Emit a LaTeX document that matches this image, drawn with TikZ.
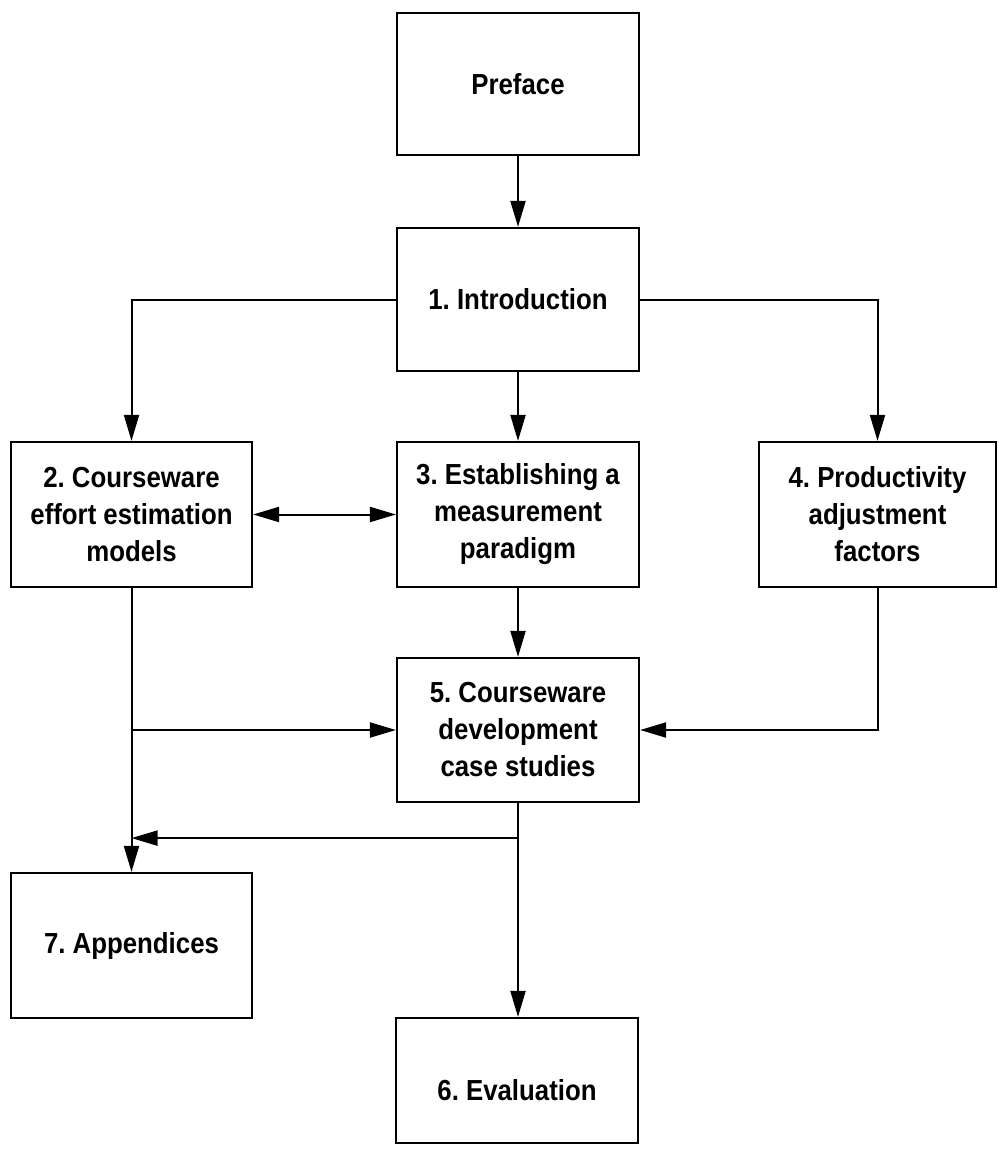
\documentclass[tikz,border=0pt]{standalone}
\usepackage{fontspec}
\setmainfont{Liberation Sans}[FakeStretch=0.89]
\usetikzlibrary{arrows.meta,calc}

\begin{document}
\frenchspacing
\begin{tikzpicture}[x=1pt, y=-1pt,
  chapter/.style={draw, line width=2.2pt, rectangle, align=center, inner sep=0pt,
    minimum width=242pt, font=\bfseries\fontsize{29}{37}\selectfont},
  link/.style={line width=2pt, -{Triangle[length=26pt, width=15pt]}},
  biglink/.style={line width=2pt, {Triangle[length=26pt, width=15pt]}-{Triangle[length=26pt, width=15pt]}}
]
\useasboundingbox (0,0) rectangle (998,1155);

% chapter boxes
\node[chapter, minimum height=142pt] (pref)  at (518,84)     {Preface};
\node[chapter, minimum height=143pt] (intro) at (518,299.5)  {1. Introduction};
\node[chapter, minimum height=145pt, minimum width=241pt] (c2) at (131.5,514.5) {2. Courseware\\effort estimation\\models};
\node[chapter, minimum height=145pt] (c3) at (518,514.5) {3. Establishing a\\measurement\\paradigm};
\node[chapter, minimum height=145pt, minimum width=237pt] (c4) at (877.5,514.5)   {4. Productivity\\adjustment\\factors};
\node[chapter, minimum height=144pt] (c5) at (518,730)   {5. Courseware\\development\\case studies};
\node[chapter, minimum height=145pt, minimum width=241pt] (c7) at (131.5,945.5) {7. Appendices};
\node[chapter, minimum height=125pt, text height=40pt, text depth=0pt] (c6) at (517,1080.5) {6. Evaluation};

% helper points for the branching connectors
\coordinate (split) at ($(c5.south)+(0,35)$);
\coordinate (join)  at (split -| c2.south);

% connectors
\draw[link] (pref.south) -- (intro.north);
\draw[link] (intro.west) -| (c2.north);
\draw[link] (intro.south) -- (c3.north);
\draw[link] (intro.east) -| (c4.north);
\draw[biglink] (c2.east) -- (c3.west);
\draw[link] (c3.south) -- (c5.north);
\draw[link] (c2.south) -- (c7.north);
\draw[link] (c2.south |- c5.west) -- (c5.west);
\draw[link] (c4.south) |- (c5.east);
\draw[link] (c5.south) -- (c5.south |- c6.north);
\draw[link] (split) -- (join);
\end{tikzpicture}
\end{document}
